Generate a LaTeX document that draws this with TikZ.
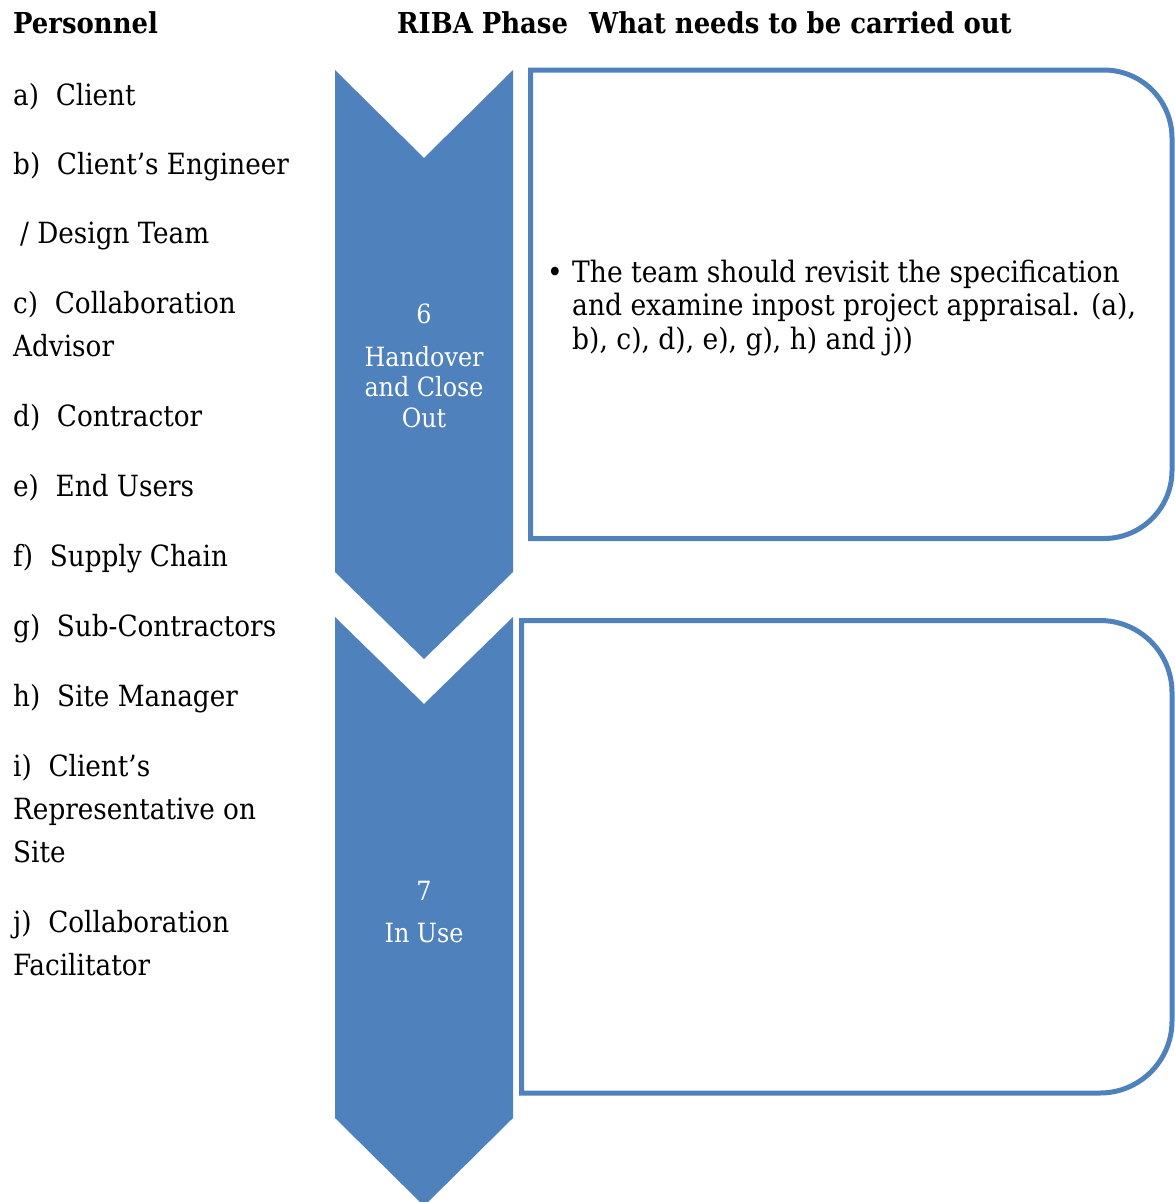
\documentclass[tikz,border=0pt]{standalone}
\usepackage{fontspec}
\setmainfont{DejaVu Serif Condensed}
\definecolor{riba}{HTML}{4F81BD}
\begin{document}
\begin{tikzpicture}[x=1pt,y=-1pt,
  lbl/.style={anchor=base west,inner sep=0pt,font=\fontsize{29.2}{35}\selectfont},
  hdr/.style={anchor=base west,inner sep=0pt,font=\fontsize{28.8}{35}\selectfont\bfseries},
  chev/.style={fill=riba,draw=none},
  ctext/.style={anchor=base,inner sep=0pt,text=white,font=\fontsize{26.5}{30.5}\selectfont},
  box/.style={draw=riba,line width=5pt,fill=none}]
\useasboundingbox (0,0) rectangle (1175,1202);
% headers
\node[hdr] (hp) at (13,33) {Personnel};
\node[hdr] (hr) at (397,33) {RIBA Phase};
\node[hdr] (hw) at (589,33) {What needs to be carried out};
% personnel list
\node[lbl] (pa) at (13,105) {a)\ \ Client};
\node[lbl] (pb) at (13,174) {b)\ \ Client’s Engineer};
\node[lbl] (pb2) at (20,243) {/ Design Team};
\node[lbl] (pc) at (13,313) {c)\ \ Collaboration};
\node[lbl] (pc2) at (13,356) {Advisor};
\node[lbl] (pd) at (13,426) {d)\ \ Contractor};
\node[lbl] (pe) at (13,496) {e)\ \ End Users};
\node[lbl] (pf) at (13,566) {f)\ \ Supply Chain};
\node[lbl] (pg) at (13,636) {g)\ \ Sub-Contractors};
\node[lbl] (ph) at (13,706) {h)\ \ Site Manager};
\node[lbl] (pi) at (13,776) {i)\ \ Client’s};
\node[lbl] (pi2) at (13,819) {Representative on};
\node[lbl] (pi3) at (13,862) {Site};
\node[lbl] (pj) at (13,932) {j)\ \ Collaboration};
\node[lbl] (pj2) at (13,975) {Facilitator};
% chevrons
\fill[chev] (335,70) -- (424,158) -- (513,70) -- (513,572) -- (424,659) -- (335,572) -- cycle;
\fill[chev] (335,617) -- (424,704) -- (513,617) -- (513,1118) -- (424,1206) -- (335,1118) -- cycle;
\node[ctext] (c6) at (424,323) {6};
\node[ctext] (c6a) at (424,366) {Handover};
\node[ctext] (c6b) at (424,396) {and Close};
\node[ctext] (c6c) at (424,427) {Out};
\node[ctext] (c7) at (424,900) {7};
\node[ctext] (c7a) at (424,942) {In Use};
% boxes
\draw[box] (530.5,70) -- (1104,70) arc[start angle=270,end angle=360,radius=68] -- (1172,470.5) arc[start angle=0,end angle=90,radius=68] -- (530.5,538.5) -- cycle;
\draw[box] (521.5,620.5) -- (1100,620.5) arc[start angle=270,end angle=360,radius=72] -- (1172,1021) arc[start angle=0,end angle=90,radius=72] -- (521.5,1093) -- cycle;
% bullet text
\node[anchor=base west,inner sep=0pt,font=\fontsize{29.5}{35}\selectfont] (bul) at (547,282) {\textbullet};
\node[anchor=base west,inner sep=0pt,font=\fontsize{29.5}{33.5}\selectfont,align=left] (bt) at (572,349) {The team should revisit the specification\\and examine inpost project appraisal. (a),\\b), c), d), e), g), h) and j))};
\end{tikzpicture}
\end{document}
